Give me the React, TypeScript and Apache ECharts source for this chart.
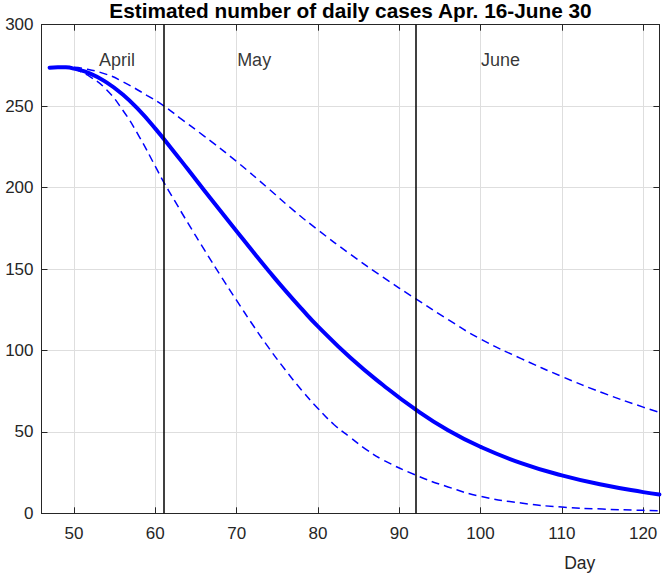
import React, { useEffect, useRef } from 'react';
import * as echarts from 'echarts';

const FONT = '"Liberation Sans", Arial, Helvetica, sans-serif';

const titleText = 'Estimated number of daily cases Apr. 16-June 30';
const xAxisLabel = 'Day';

// Central estimate
const centerDays = [47, 48, 49, 50, 52, 54, 56, 58, 60, 62, 64, 66, 68, 70, 72, 74, 76, 78, 80, 84, 88, 92, 96, 100, 105, 110, 115, 120, 122];
const centerValues = [273.6, 273.9, 273.8, 273.0, 270.0, 264.6, 257.1, 247.5, 236.2, 223.9, 211.2, 198.4, 185.7, 173.2, 160.7, 148.5, 136.7, 125.5, 114.8, 95.5, 78.8, 63.8, 51.0, 40.8, 30.8, 23.3, 17.5, 13.0, 11.6];

// Upper bound (dashed)
const upperDays = [50, 51, 54, 56, 59, 61, 63, 66, 70, 74, 77, 80, 84, 88, 92, 96, 100, 105, 110, 115, 120, 122];
const upperValues = [273.8, 273.3, 269.5, 265.0, 256.5, 250.3, 242.8, 231.6, 216.0, 199.0, 186.0, 174.0, 159.0, 145.0, 131.8, 119.0, 107.0, 95.0, 84.0, 74.0, 65.2, 62.0];

// Lower bound (dashed)
const lowerDays = [50, 52, 54, 56, 58, 60, 61, 62, 64, 66, 68, 70, 72, 74, 76, 78, 80, 82, 84, 86, 88, 92, 96, 100, 105, 110, 115, 120, 122];
const lowerValues = [273.0, 268.0, 260.0, 247.5, 231.5, 213.0, 203.6, 195.1, 178.3, 162.0, 146.1, 130.7, 115.6, 101.3, 88.0, 75.6, 64.4, 54.4, 46.5, 39.0, 32.8, 23.5, 16.2, 10.4, 6.3, 3.8, 2.6, 1.8, 1.6];

// Month annotations
const monthNames = ['April', 'May', 'June'];
const monthLabelDays = [53, 70, 100];
const monthLabelLevel = 278.3;
const monthStartDays = [61, 92];

const xMin = 46;
const xMax = 122;
const yMin = 0;
const yMax = 300;
const yStep = 50;

const zip = (d: number[], v: number[]) => d.map((x, i) => [x, v[i]]);

const AXIS_COLOR = '#262626';
const GRID_COLOR = '#dedede';
const BLUE = '#0000ff';

export default function App() {
  const ref = useRef<HTMLDivElement>(null);

  useEffect(() => {
    if (!ref.current) return;
    const chart = echarts.init(ref.current, null, { renderer: 'svg' });

    const axisLine = { show: true, onZero: false, lineStyle: { color: AXIS_COLOR, width: 1 } };
    const axisTick = { show: true, inside: true, length: 6, lineStyle: { color: AXIS_COLOR, width: 1 } };

    const curve = (name: string, d: number[], v: number[], width: number, dashed: boolean, z: number) => ({
      name,
      type: 'line',
      data: zip(d, v),
      showSymbol: false,
      symbol: 'none',
      smooth: 0.5,
      lineStyle: dashed
        ? { color: BLUE, width, type: [8, 5] }
        : { color: BLUE, width, cap: 'round', join: 'round' },
      silent: true,
      z,
    });

    const option: any = {
      animation: false,
      textStyle: { fontFamily: FONT },
      title: {
        text: titleText,
        left: 350.5,
        top: 0.3,
        padding: 0,
        textAlign: 'center',
        textStyle: { fontSize: 20.8, fontWeight: 'bold', color: '#000', fontFamily: FONT },
      },
      grid: { left: 41.5, right: 4.6, top: 24.7, bottom: 61.7, containLabel: false, outerBoundsMode: 'none' },
      xAxis: [
        {
          type: 'value',
          min: xMin,
          max: xMax,
          splitNumber: 8,
          position: 'bottom',
          axisLine,
          axisTick,
          axisLabel: {
            show: true,
            margin: 11.5,
            fontSize: 17,
            color: AXIS_COLOR,
            fontFamily: FONT,
            formatter: (v: number) => (v % 10 === 0 ? String(v) : ''),
          },
          splitLine: { show: true, lineStyle: { color: GRID_COLOR, width: 1 } },
        },
        {
          type: 'value',
          min: xMin,
          max: xMax,
          splitNumber: 8,
          position: 'top',
          axisLine,
          axisTick,
          axisLabel: { show: false },
          splitLine: { show: false },
        },
      ],
      yAxis: [
        {
          type: 'value',
          min: yMin,
          max: yMax,
          interval: yStep,
          position: 'left',
          axisLine,
          axisTick,
          axisLabel: { show: true, margin: 8, fontSize: 17, color: AXIS_COLOR, fontFamily: FONT },
          splitLine: { show: true, lineStyle: { color: GRID_COLOR, width: 1 } },
        },
        {
          type: 'value',
          min: yMin,
          max: yMax,
          interval: yStep,
          position: 'right',
          axisLine,
          axisTick,
          axisLabel: { show: false },
          splitLine: { show: false },
        },
      ],
      series: [
        curve('Lower', lowerDays, lowerValues, 1.5, true, 3),
        curve('Upper', upperDays, upperValues, 1.5, true, 3),
        curve('Estimate', centerDays, centerValues, 4, false, 4),
        {
          name: 'Months',
          type: 'scatter',
          data: monthNames.map((m, i) => [monthLabelDays[i], monthLabelLevel, m]),
          symbolSize: 1,
          itemStyle: { color: 'transparent' },
          silent: true,
          z: 6,
          label: {
            show: true,
            position: 'right',
            distance: 0,
            fontSize: 18,
            color: '#000',
            fontFamily: FONT,
            formatter: (p: any) => p.data[2],
          },
          markLine: {
            silent: true,
            symbol: ['none', 'none'],
            label: { show: false },
            lineStyle: { color: '#000', width: 1.5, type: 'solid' },
            emphasis: { disabled: true },
            data: monthStartDays.map((d) => ({ xAxis: d })),
            z: 5,
          },
        },
      ],
      graphic: [
        {
          type: 'text',
          x: 579.7,
          y: 563,
          silent: true,
          style: {
            text: xAxisLabel,
            fontSize: 17.5,
            fontFamily: FONT,
            fill: AXIS_COLOR,
            align: 'center',
            verticalAlign: 'middle',
          },
        },
      ],
    };

    chart.setOption(option);
    return () => chart.dispose();
  }, []);

  return (
    <div
      ref={ref}
      style={{ position: 'fixed', left: 0, top: 0, width: 664, height: 575, background: '#fff' }}
    />
  );
}
